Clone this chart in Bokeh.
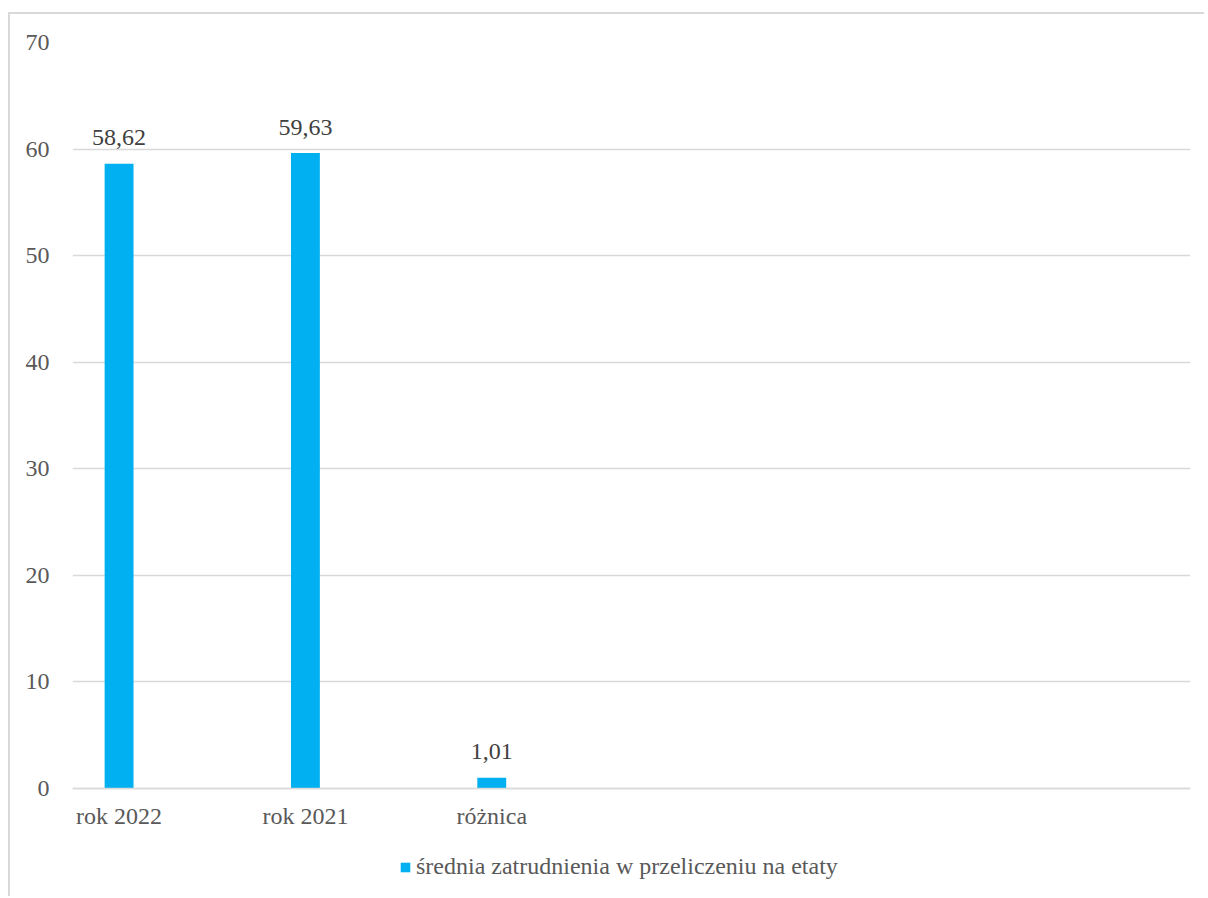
from bokeh.plotting import figure
from bokeh.models import Range1d, FixedTicker, Legend, LegendItem, ColumnDataSource, Span
from bokeh.core.properties import value
from bokeh.embed import file_html
from bokeh.resources import INLINE

# ---- data ----
categories = ["rok 2022", "rok 2021", "różnica"]
values = [58.62, 59.63, 1.01]
value_labels = ["58,62", "59,63", "1,01"]
series_name = "średnia zatrudnienia w przeliczeniu na etaty"
y_ticks = [0, 10, 20, 30, 40, 50, 60, 70]
y_max = 70
n_slots = 12          # category slots on the axis (empty ones included)
slot_step = 2         # each used category is followed by an empty slot

positions = [i * slot_step for i in range(len(categories))]

# ---- layout (pixels) ----
FRAME_TOP = 42
ZERO_PX = 788
FRAME_BOTTOM = 898
y_start = -y_max * (FRAME_BOTTOM - ZERO_PX) / (ZERO_PX - FRAME_TOP)

FONT = "Liberation Serif"
FS = "24px"
BAR = "#00B0F0"
GRID = "#D9D9D9"

src = ColumnDataSource(dict(x=positions, top=values, lab=value_labels,
                            cat=categories, zero=[0] * len(categories)))

p = figure(width=1196, height=884, output_backend="svg", toolbar_location=None,
           x_range=Range1d(-0.5, n_slots - 0.5), y_range=Range1d(y_start, y_max),
           x_axis_location=None,
           min_border_left=62, min_border_right=16, min_border_top=28,
           min_border_bottom=0)
p.styles = {"border-left": "2px solid #D9D9D9", "border-top": "2px solid #D9D9D9",
            "margin-top": "12px", "margin-left": "8px"}
p.outline_line_color = None
p.background_fill_color = "white"
p.border_fill_color = "white"

# gridlines / category axis line
p.xgrid.grid_line_color = None
p.ygrid.grid_line_color = GRID
p.ygrid.grid_line_width = 1.3
p.add_layout(Span(location=0, dimension="width", line_color=GRID, line_width=1.6))

bars = p.vbar(x="x", top="top", width=0.31, bottom=0, source=src,
              fill_color=BAR, line_color=None)

# data labels
p.text(x="x", y="top", text="lab", source=src, text_align="center",
       text_baseline="alphabetic", y_offset=-26, text_color="#404040",
       text_font=value(FONT), text_font_size=FS)

# category labels under the axis line
p.text(x="x", y="zero", text="cat", source=src, text_align="center",
       text_baseline="alphabetic", y_offset=27, text_color="#595959",
       text_font=value(FONT), text_font_size=FS)

# y axis
p.yaxis.ticker = FixedTicker(ticks=y_ticks)
p.yaxis.major_tick_line_color = None
p.yaxis.minor_tick_line_color = None
p.yaxis.axis_line_color = None
p.yaxis.major_label_standoff = 17
p.yaxis.major_label_text_font = FONT
p.yaxis.major_label_text_font_size = FS
p.yaxis.major_label_text_color = "#595959"

legend = Legend(items=[LegendItem(label=series_name, renderers=[bars])],
                location=(327, 18), orientation="horizontal",
                glyph_width=12, glyph_height=12, label_standoff=5,
                padding=0, margin=0, border_line_color=None,
                background_fill_alpha=0,
                label_text_font=FONT, label_text_font_size=FS,
                label_text_color="#595959")
p.add_layout(legend, "center")

open("out.html", "w").write(file_html(p, INLINE))
